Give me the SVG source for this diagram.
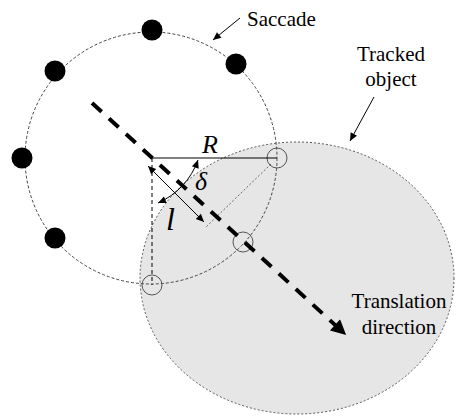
<svg xmlns="http://www.w3.org/2000/svg" width="461" height="417" viewBox="0 0 461 417">
<style>
.txt{font-family:'Liberation Serif','DejaVu Serif','Noto Serif',serif;font-size:21px;fill:#000}
.math{font-family:'Liberation Serif','DejaVu Serif','Noto Serif',serif;font-style:italic;fill:#000}
.dotc{fill:#000}
.small{fill:none;stroke:#555;stroke-width:1}
.thin{stroke:#000;stroke-width:1;fill:none}
.dotted{stroke:#666;stroke-width:1;fill:none;stroke-dasharray:2 2}
</style>
<defs>
<marker id="ah" viewBox="0 0 10 10" refX="10" refY="5" markerWidth="10" markerHeight="8" orient="auto-start-reverse" markerUnits="userSpaceOnUse"><path d="M0,0.5 L10,5 L0,9.5 z" fill="#000"/></marker>
<marker id="bigah" viewBox="0 0 10 10" refX="9" refY="5" markerWidth="17" markerHeight="15" orient="auto" markerUnits="userSpaceOnUse"><path d="M0,0 L10,5 L0,10 z" fill="#000"/></marker>
</defs>

<g id="tracked-object">
<ellipse cx="297" cy="278" rx="157" ry="136" fill="#e6e6e6" stroke="#555" stroke-width="1" stroke-dasharray="2 2"/>
</g>

<g id="saccade">
<circle cx="151" cy="158" r="126" fill="none" stroke="#444" stroke-width="1" stroke-dasharray="3 2"/>
<circle class="dotc" cx="152" cy="30" r="10.5"/>
<circle class="dotc" cx="55" cy="71" r="10.5"/>
<circle class="dotc" cx="236" cy="64" r="10.5"/>
<circle class="dotc" cx="22" cy="158" r="10.5"/>
<circle class="dotc" cx="55" cy="238" r="10.5"/>
</g>

<g id="sample-points">
<circle class="small" cx="277" cy="158" r="10"/>
<circle class="small" cx="243" cy="242" r="10"/>
<circle class="small" cx="152" cy="285" r="10"/>
</g>

<g id="connectors">
<line class="thin" x1="152" y1="158" x2="277" y2="158"/>
<line x1="152" y1="158" x2="152" y2="285" stroke="#000" stroke-width="1" stroke-dasharray="4 3"/>
<line class="dotted" x1="271" y1="164" x2="205" y2="228"/>
<line class="thin" x1="148" y1="166" x2="204" y2="222" marker-start="url(#ah)" marker-end="url(#ah)"/>
<path class="thin" d="M198,160 A74,74 0 0 1 158,203" marker-start="url(#ah)" marker-end="url(#ah)"/>
<line x1="92" y1="103" x2="345" y2="334" stroke="#000" stroke-width="4" stroke-dasharray="13 10" marker-end="url(#bigah)"/>
<line class="thin" x1="240" y1="18" x2="213" y2="40" marker-end="url(#ah)"/>
<line class="thin" x1="374" y1="97" x2="350" y2="141" marker-end="url(#ah)"/>
</g>

<g id="labels">
<text class="txt" x="247" y="26">Saccade</text>
<text class="txt" x="391" y="61" text-anchor="middle">Tracked</text>
<text class="txt" x="391" y="86" text-anchor="middle">object</text>
<text class="txt" x="399" y="308" text-anchor="middle">Translation</text>
<text class="txt" x="399" y="334" text-anchor="middle">direction</text>
<text class="math" x="202" y="153" font-size="26">R</text>
<text class="math" x="195" y="190" font-size="26">δ</text>
<text class="math" x="166" y="230" font-size="32">l</text>
</g>
</svg>
